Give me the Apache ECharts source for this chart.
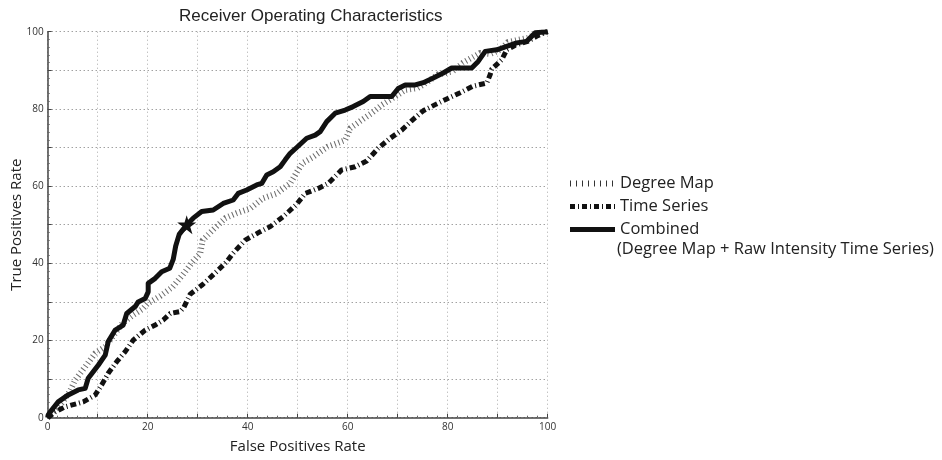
<!DOCTYPE html>
<html>
<head>
<meta charset="utf-8">
<script src="https://cdn.jsdelivr.net/npm/echarts@6/dist/echarts.min.js"></script>
<style>html,body{margin:0;padding:0;background:#fff}#c{width:942px;height:460px}</style>
</head>
<body>
<div id="c"></div>
<script>
const chartTitle = 'Receiver Operating Characteristics';
const xName = 'False Positives Rate';
const yName = 'True Positives Rate';
const seriesNames = ['Degree Map', 'Time Series', 'Combined'];
const combinedNote = '(Degree Map + Raw Intensity Time Series)';

const degreeMap = [[0,0],[1.5,2],[3,4],[4.5,7],[5.5,9.8],[7.5,13.2],[9.5,16.7],[11.5,18.4],[13,21],[15,24.5],[17,26.5],[19,28.2],[20,29.6],[22.5,31.5],[25,33.9],[27,37],[29,40.4],[30.5,42.5],[31,46],[33,48.6],[35.5,51.7],[37.8,53],[40.5,54.2],[43,56.8],[45.8,58.1],[48.5,60.7],[50,64],[51,66],[53,67.5],[56,70.2],[59.5,71.9],[60.5,75],[62.8,77.1],[64.8,78.9],[66.8,81],[69.5,83.2],[71.5,84.9],[74,85.4],[76,87],[78,88.9],[81,89.7],[83,91.9],[86.5,94.5],[88.5,94.2],[90.5,95.3],[92,97.3],[96,98.4],[98,99.5],[100,100]];

const timeSeries = [[0,0],[0.1,0.3],[1.5,1.5],[3.5,2.8],[7.1,4.1],[9.5,5.9],[10.8,8.5],[12.1,11.5],[13.8,14.5],[15.5,17.1],[17.1,20.1],[19.5,22.7],[21.5,24],[23.1,25.3],[24.5,27],[26.5,27.5],[27.2,28.5],[28.5,32],[31,34.5],[33.5,37.5],[35.8,40.4],[37,42.5],[39.5,46],[42.5,48.2],[44.5,49.5],[47.1,52.1],[49.8,55.3],[51.5,58.1],[54.1,59.4],[56.1,60.7],[58.8,64.2],[61.5,65],[63.8,66.5],[66.1,69.8],[68.5,72.4],[70.8,74.5],[73.1,77.3],[75.1,79.5],[77.8,81.3],[80.5,83],[82.5,84.2],[85.1,85.9],[87.8,86.7],[88.5,88.9],[88.8,90.3],[90.8,92.7],[91.8,95.3],[93.5,96.5],[96,97.5],[98,99],[100,100]];

const combined = [[0,0],[0.1,0.7],[0.8,2],[2.1,4.1],[4.1,5.9],[6.1,7.2],[7.5,7.6],[8.1,10.2],[10.1,13.6],[11.5,16.2],[12.1,19.7],[13.5,22.7],[15.1,24],[15.8,27],[17.5,28.8],[18.1,30],[19.5,30.9],[20.1,32.6],[20.1,34.8],[21.5,36.1],[22.8,37.8],[24.4,38.7],[25.1,41],[25.6,44.5],[26.3,47.5],[27.8,50],[29.1,51.7],[30.8,53.4],[33.1,53.8],[35.1,55.5],[37.1,56.4],[38.1,58.1],[39.8,59],[41.8,60.3],[42.8,60.7],[43.8,62.9],[45.1,63.7],[46.5,65],[47.5,66.8],[48.5,68.5],[49.8,70],[51.8,72.4],[53.5,73.2],[54.5,74.1],[55.8,76.7],[57.5,78.9],[59.5,79.7],[61.1,80.6],[63.1,81.9],[64.5,83.2],[68.8,83.2],[70.1,85.3],[71.5,86.2],[73.5,86.2],[75.1,86.8],[77.1,88],[79.1,89.3],[80.8,90.6],[84.8,90.6],[86.1,92.3],[87.5,94.9],[89.8,95.3],[91.8,96.2],[93.8,97.1],[95.8,97.5],[97.5,99.7],[100,100]];

const starPoint = [[27.8, 50]];
const labelTicks = [0, 20, 40, 60, 80, 100];

const starPath = 'path://M50,0 L61,35 L98,35 L68,57 L79,91 L50,70 L21,91 L32,57 L2,35 L39,35 Z';
const tickFont = '"Open Sans", "Noto Sans", sans-serif';

const chart = echarts.init(document.getElementById('c'));
const axisCommon = {
  type: 'value', min: 0, max: 100, interval: 10,
  nameLocation: 'middle', nameMoveOverlap: false,
  nameTextStyle: { fontFamily: tickFont, fontSize: 15, color: '#222' },
  axisLine: { show: true, lineStyle: { color: '#444', width: 1.5 } },
  axisTick: { show: true, inside: true, length: 4, lineStyle: { color: '#444' } },
  minorTick: { show: true, splitNumber: 5, length: 2, lineStyle: { color: '#666' } },
  axisLabel: {
    fontFamily: tickFont, fontSize: 10, color: '#333', margin: 4,
    formatter: v => labelTicks.includes(v) ? String(v) : ''
  }
};
const degStyle = { color: '#6a6a6a', width: 6, type: [1, 3], cap: 'butt' };
const tsStyle = { color: '#111', width: 5, type: [6, 3, 1, 3], cap: 'butt' };
const combStyle = { color: '#111', width: 5, join: 'round' };
chart.setOption({
  animation: false,
  title: {
    text: chartTitle, left: 174, top: 3,
    textStyle: { fontFamily: '"Liberation Sans", Arial, sans-serif', fontSize: 17, fontWeight: 'normal', color: '#222' }
  },
  grid: { left: 47.7, right: 394.3, top: 31.7, bottom: 42.3, outerBoundsMode: 'none', containLabel: false },
  xAxis: Object.assign({}, axisCommon, {
    name: xName, nameGap: 22,
    splitLine: { show: true, lineStyle: { color: '#aaa', type: [1, 3], width: 1 } }
  }),
  yAxis: Object.assign({}, axisCommon, {
    name: yName, nameGap: 23,
    splitLine: { show: true, lineStyle: { color: '#777', type: [1, 3], width: 1 } }
  }),
  legend: {
    orient: 'vertical', left: 567, top: 175, padding: 0,
    itemWidth: 45, itemHeight: 14, itemGap: 6,
    itemStyle: { opacity: 0, borderWidth: 0 },
    textStyle: { fontFamily: tickFont, fontSize: 16.5, lineHeight: 16, color: '#222' },
    data: [
      { name: seriesNames[0], lineStyle: { width: 6, type: [1, 5], color: '#333', cap: 'butt' } },
      { name: seriesNames[1], lineStyle: { width: 5, type: [5, 3, 1, 3], color: '#111', cap: 'butt' } },
      { name: seriesNames[2], lineStyle: { width: 5, color: '#111' } }
    ]
  },
  graphic: [{
    type: 'text', left: 617, top: 241,
    style: { text: combinedNote, font: '16.5px "Open Sans", "Noto Sans", sans-serif', fill: '#222' }
  }],
  series: [
    { name: seriesNames[0], type: 'line', data: degreeMap, symbol: 'none', z: 2,
      lineStyle: degStyle, itemStyle: { color: '#6a6a6a' } },
    { name: seriesNames[1], type: 'line', data: timeSeries, symbol: 'none', z: 3,
      lineStyle: tsStyle, itemStyle: { color: '#111' } },
    { name: seriesNames[2], type: 'line', data: combined, symbol: 'none', z: 4,
      lineStyle: combStyle, itemStyle: { color: '#111' } },
    { name: 'star', type: 'scatter', data: starPoint, symbol: starPath, symbolSize: 19, z: 5,
      itemStyle: { color: '#111', opacity: 1 } }
  ]
});
</script>
</body>
</html>
